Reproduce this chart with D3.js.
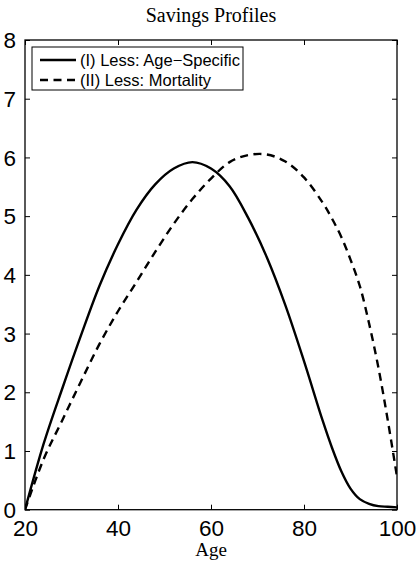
<!DOCTYPE html>
<html>
<head>
<meta charset="utf-8">
<script src="https://cdn.jsdelivr.net/npm/d3@7"></script>
<style>
  html, body { margin: 0; padding: 0; background: #fff; }
  svg { display: block; }
</style>
</head>
<body>
<svg id="chart" width="419" height="561"></svg>
<script>
// Savings profile by age for two accounting schemes
const ages = [20, 24, 28, 32, 36, 40, 44, 48, 52, 56, 60, 64, 68, 72, 76, 80, 84, 86, 88, 90, 92, 94, 96, 98, 100];
const ageSpecific = [0, 1.12, 2.06, 2.96, 3.81, 4.52, 5.11, 5.54, 5.81, 5.92, 5.81, 5.51, 4.97, 4.30, 3.48, 2.53, 1.52, 1.06, 0.66, 0.36, 0.18, 0.10, 0.06, 0.05, 0.04];
const mortality = [0, 0.86, 1.52, 2.18, 2.82, 3.38, 3.88, 4.39, 4.87, 5.29, 5.64, 5.92, 6.04, 6.05, 5.93, 5.66, 5.23, 4.96, 4.65, 4.26, 3.81, 3.17, 2.42, 1.53, 0.56];

const xTicks = [20, 40, 60, 80, 100];
const yTicks = [0, 1, 2, 3, 4, 5, 6, 7, 8];
const seriesNames = ["(I) Less: Age\u2212Specific", "(II) Less: Mortality"];

const W = 419, H = 561;
const margin = { top: 40, right: 22, bottom: 51.3, left: 25 };
const innerW = W - margin.left - margin.right;
const innerH = H - margin.top - margin.bottom;

const svg = d3.select("#chart");
const g = svg.append("g").attr("transform", `translate(${margin.left},${margin.top})`);

const x = d3.scaleLinear().domain([20, 100]).range([0, innerW]);
const y = d3.scaleLinear().domain([0, 8]).range([innerH, 0]);

const sansFont = "'Liberation Sans', Arial, Helvetica, sans-serif";
const serifFont = "'Liberation Serif', 'Times New Roman', serif";
const tickLen = 5;

// Title
svg.append("text")
  .attr("x", margin.left + innerW / 2)
  .attr("y", 22)
  .attr("text-anchor", "middle")
  .style("font-family", serifFont)
  .style("font-size", "20px")
  .attr("fill", "#000")
  .text("Savings Profiles");

// Axes with inward ticks on all four sides (boxed frame)
const axisStyle = sel => {
  sel.select(".domain").remove();
  sel.selectAll("line").attr("stroke", "#000").attr("stroke-width", 1);
  sel.selectAll("text")
    .style("font-family", sansFont)
    .style("font-size", "22.5px")
    .attr("fill", "#000");
};

g.append("g")
  .attr("transform", `translate(0,${innerH})`)
  .call(d3.axisBottom(x).tickValues(xTicks).tickFormat(d3.format("d")).tickSizeInner(-tickLen).tickSizeOuter(0).tickPadding(10.5))
  .call(axisStyle)
  .selectAll("text").attr("dy", "0.71em");

g.append("g")
  .call(d3.axisTop(x).tickValues(xTicks).tickFormat("").tickSizeInner(-tickLen).tickSizeOuter(0))
  .call(axisStyle);

g.append("g")
  .call(d3.axisLeft(y).tickValues(yTicks).tickFormat(d3.format("d")).tickSizeInner(-tickLen).tickSizeOuter(0).tickPadding(9))
  .call(axisStyle)
  .selectAll("text").attr("dy", "0.34em");

g.append("g")
  .attr("transform", `translate(${innerW},0)`)
  .call(d3.axisRight(y).tickValues(yTicks).tickFormat("").tickSizeInner(-tickLen).tickSizeOuter(0))
  .call(axisStyle);

// Frame
g.append("rect")
  .attr("x", 0).attr("y", 0)
  .attr("width", innerW).attr("height", innerH)
  .attr("fill", "none")
  .attr("stroke", "#000")
  .attr("stroke-width", 1.3);

// Curves
g.append("clipPath").attr("id", "plot-clip")
  .append("rect").attr("width", innerW).attr("height", innerH);

const line = values => d3.line()
  .x((d, i) => x(ages[i]))
  .y(d => y(d))
  .curve(d3.curveCatmullRom.alpha(0.5))(values);

const curves = g.append("g").attr("clip-path", "url(#plot-clip)");

curves.append("path")
  .attr("d", line(ageSpecific))
  .attr("fill", "none")
  .attr("stroke", "#000")
  .attr("stroke-width", 2.4);

curves.append("path")
  .attr("d", line(mortality))
  .attr("fill", "none")
  .attr("stroke", "#000")
  .attr("stroke-width", 2.4)
  .attr("stroke-dasharray", "8,5.5");

// Legend
const legend = g.append("g").attr("transform", "translate(7,7)");
legend.append("rect")
  .attr("width", 211).attr("height", 43)
  .attr("fill", "#fff")
  .attr("stroke", "#000")
  .attr("stroke-width", 1);

const dashes = [null, "8,5.5"];
seriesNames.forEach((name, i) => {
  const row = legend.append("g").attr("transform", `translate(0,${13 + i * 20})`);
  row.append("line")
    .attr("x1", 8).attr("x2", 44)
    .attr("y1", 0).attr("y2", 0)
    .attr("stroke", "#000")
    .attr("stroke-width", 2.4)
    .attr("stroke-dasharray", dashes[i]);
  row.append("text")
    .attr("x", 48)
    .attr("y", 0)
    .attr("dy", "0.35em")
    .style("font-family", sansFont)
    .style("font-size", "16.5px")
    .attr("fill", "#000")
    .text(name);
});

// X-axis title
svg.append("text")
  .attr("x", margin.left + innerW / 2)
  .attr("y", 555.5)
  .attr("text-anchor", "middle")
  .style("font-family", serifFont)
  .style("font-size", "19px")
  .attr("fill", "#000")
  .text("Age");
</script>
</body>
</html>
